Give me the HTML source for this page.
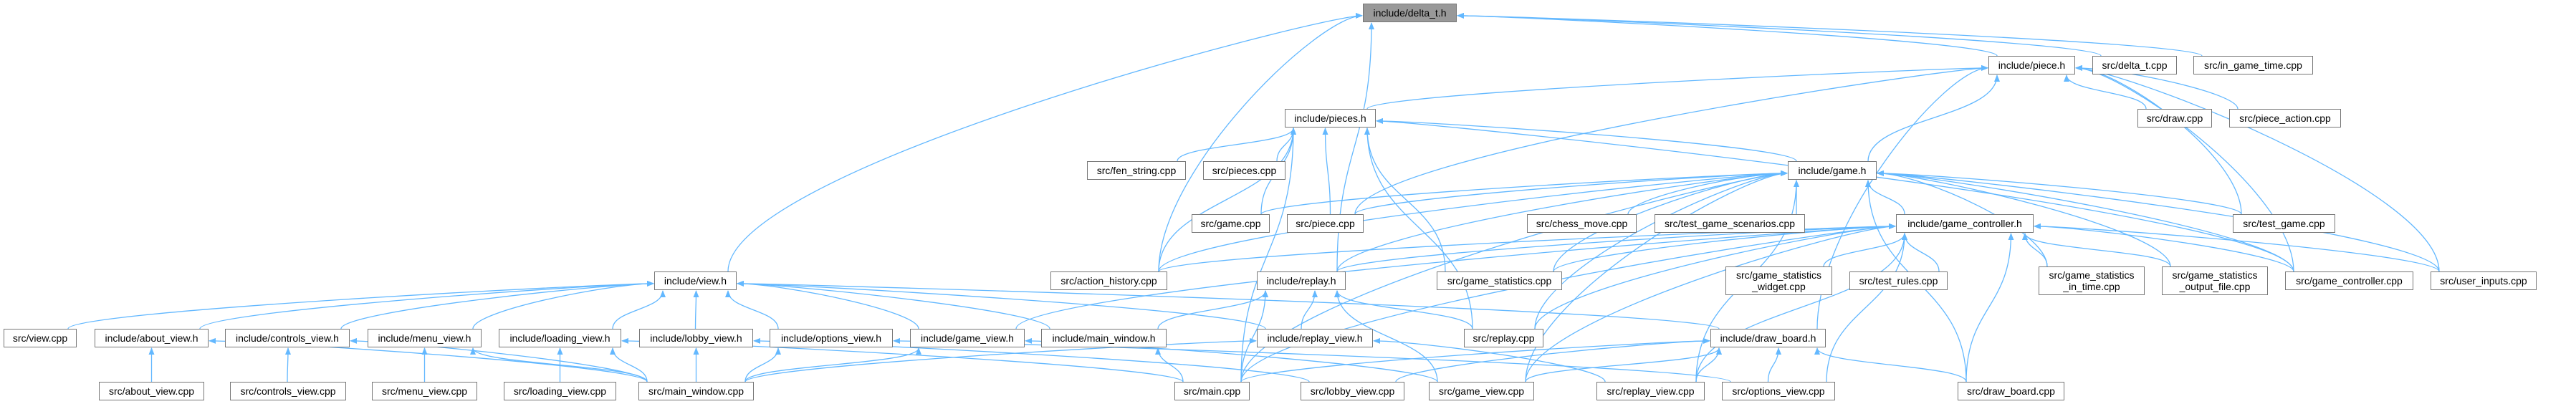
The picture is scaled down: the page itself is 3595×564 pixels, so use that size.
<!DOCTYPE html>
<html><head><meta charset="utf-8">
<style>
html,body{margin:0;padding:0;background:#fff;}
body{width:3595px;height:564px;position:relative;overflow:hidden;font-family:"Liberation Sans",Arial,sans-serif;}
.n{position:absolute;box-sizing:border-box;border:1px solid #777;background:#fff;font-size:14px;color:#000;display:flex;align-items:center;justify-content:center;text-align:center;line-height:16px;white-space:nowrap;}
.g{background:#999;}
svg{position:absolute;left:0;top:0;}
</style></head><body>
<svg id="s" width="3595" height="564">
<defs><marker id="a" markerWidth="10" markerHeight="8" refX="9" refY="4" orient="auto" markerUnits="userSpaceOnUse"><path d="M0,0 L10,4 L0,8 z" fill="#63b8ff"/></marker></defs>
<g id="e" fill="none" stroke="#63b8ff" stroke-width="1.3"></g>
</svg>
<div id="nodes">
<div class="n g" id="delta_t_h" style="left:1902px;top:5px;width:131px;height:26px">include/delta_t.h</div>
<div class="n" id="piece_h" style="left:2775px;top:78px;width:121px;height:26px">include/piece.h</div>
<div class="n" id="delta_t_cpp" style="left:2920px;top:78px;width:118px;height:26px">src/delta_t.cpp</div>
<div class="n" id="in_game_time" style="left:3061px;top:78px;width:167px;height:26px">src/in_game_time.cpp</div>
<div class="n" id="pieces_h" style="left:1793px;top:152px;width:127px;height:26px">include/pieces.h</div>
<div class="n" id="draw_cpp" style="left:2983px;top:152px;width:104px;height:26px">src/draw.cpp</div>
<div class="n" id="piece_action" style="left:3111px;top:152px;width:156px;height:26px">src/piece_action.cpp</div>
<div class="n" id="fen" style="left:1517px;top:225px;width:138px;height:26px">src/fen_string.cpp</div>
<div class="n" id="pieces_cpp" style="left:1679px;top:225px;width:115px;height:26px">src/pieces.cpp</div>
<div class="n" id="game_h" style="left:2495px;top:225px;width:124px;height:26px">include/game.h</div>
<div class="n" id="game_cpp" style="left:1663px;top:299px;width:109px;height:26px">src/game.cpp</div>
<div class="n" id="piece_cpp" style="left:1796px;top:299px;width:107px;height:26px">src/piece.cpp</div>
<div class="n" id="chess_move" style="left:2131px;top:299px;width:153px;height:26px">src/chess_move.cpp</div>
<div class="n" id="tgs" style="left:2309px;top:299px;width:210px;height:26px">src/test_game_scenarios.cpp</div>
<div class="n" id="gc_h" style="left:2646px;top:299px;width:192px;height:26px">include/game_controller.h</div>
<div class="n" id="test_game" style="left:3116px;top:299px;width:143px;height:26px">src/test_game.cpp</div>
<div class="n" id="view_h" style="left:913px;top:379px;width:115px;height:26px">include/view.h</div>
<div class="n" id="action_hist" style="left:1466px;top:379px;width:163px;height:26px">src/action_history.cpp</div>
<div class="n" id="replay_h" style="left:1754px;top:379px;width:124px;height:26px">include/replay.h</div>
<div class="n" id="gstat" style="left:2005px;top:379px;width:175px;height:26px">src/game_statistics.cpp</div>
<div class="n" id="gsw" style="left:2408px;top:372px;width:149px;height:40px">src/game_statistics<br>_widget.cpp</div>
<div class="n" id="test_rules" style="left:2581px;top:379px;width:137px;height:26px">src/test_rules.cpp</div>
<div class="n" id="gsit" style="left:2845px;top:372px;width:148px;height:40px">src/game_statistics<br>_in_time.cpp</div>
<div class="n" id="gsof" style="left:3017px;top:372px;width:148px;height:40px">src/game_statistics<br>_output_file.cpp</div>
<div class="n" id="gc_cpp" style="left:3189px;top:379px;width:179px;height:26px">src/game_controller.cpp</div>
<div class="n" id="user_in" style="left:3392px;top:379px;width:148px;height:26px">src/user_inputs.cpp</div>
<div class="n" id="view_cpp" style="left:5px;top:459px;width:102px;height:26px">src/view.cpp</div>
<div class="n" id="about_h" style="left:132px;top:459px;width:159px;height:26px">include/about_view.h</div>
<div class="n" id="controls_h" style="left:314px;top:459px;width:174px;height:26px">include/controls_view.h</div>
<div class="n" id="menu_h" style="left:513px;top:459px;width:159px;height:26px">include/menu_view.h</div>
<div class="n" id="loading_h" style="left:696px;top:459px;width:171px;height:26px">include/loading_view.h</div>
<div class="n" id="lobby_h" style="left:892px;top:459px;width:159px;height:26px">include/lobby_view.h</div>
<div class="n" id="options_h" style="left:1074px;top:459px;width:172px;height:26px">include/options_view.h</div>
<div class="n" id="gameview_h" style="left:1270px;top:459px;width:160px;height:26px">include/game_view.h</div>
<div class="n" id="mainwin_h" style="left:1453px;top:459px;width:175px;height:26px">include/main_window.h</div>
<div class="n" id="replayview_h" style="left:1754px;top:459px;width:162px;height:26px">include/replay_view.h</div>
<div class="n" id="replay_cpp" style="left:2043px;top:459px;width:111px;height:26px">src/replay.cpp</div>
<div class="n" id="drawboard_h" style="left:2387px;top:459px;width:161px;height:26px">include/draw_board.h</div>
<div class="n" id="about_cpp" style="left:138px;top:533px;width:147px;height:26px">src/about_view.cpp</div>
<div class="n" id="controls_cpp" style="left:321px;top:533px;width:162px;height:26px">src/controls_view.cpp</div>
<div class="n" id="menu_cpp" style="left:519px;top:533px;width:147px;height:26px">src/menu_view.cpp</div>
<div class="n" id="loading_cpp" style="left:703px;top:533px;width:157px;height:26px">src/loading_view.cpp</div>
<div class="n" id="mainwin_cpp" style="left:891px;top:533px;width:161px;height:26px">src/main_window.cpp</div>
<div class="n" id="main_cpp" style="left:1639px;top:533px;width:105px;height:26px">src/main.cpp</div>
<div class="n" id="lobby_cpp" style="left:1815px;top:533px;width:145px;height:26px">src/lobby_view.cpp</div>
<div class="n" id="gameview_cpp" style="left:1994px;top:533px;width:147px;height:26px">src/game_view.cpp</div>
<div class="n" id="replayview_cpp" style="left:2228px;top:533px;width:151px;height:26px">src/replay_view.cpp</div>
<div class="n" id="options_cpp" style="left:2403px;top:533px;width:158px;height:26px">src/options_view.cpp</div>
<div class="n" id="drawboard_cpp" style="left:2732px;top:533px;width:149px;height:26px">src/draw_board.cpp</div>
</div>
<script>
var E={
delta_t_h:["piece_h","delta_t_cpp","in_game_time","view_h","action_hist","replay_h"],
piece_h:["pieces_h","game_h","draw_cpp","piece_action","drawboard_h","gc_cpp","user_in","test_game","piece_cpp"],
pieces_h:["fen","pieces_cpp","game_cpp","piece_cpp","action_hist","main_cpp","replay_cpp","game_h","gc_cpp","gstat"],
game_h:["game_cpp","piece_cpp","chess_move","tgs","gc_h","test_game","gsit","gsof","gc_cpp","user_in","action_hist","gstat","replay_cpp","main_cpp","gameview_cpp","drawboard_cpp","replay_h","replayview_cpp"],
gc_h:["action_hist","replay_h","gsw","test_rules","gsit","gsof","gc_cpp","user_in","gstat","gameview_h","main_cpp","replay_cpp","replayview_cpp","gameview_cpp","options_cpp","drawboard_cpp"],
view_h:["view_cpp","about_h","controls_h","menu_h","loading_h","lobby_h","options_h","gameview_h","mainwin_h","replayview_h","drawboard_h"],
replay_h:["mainwin_h","replayview_h","replay_cpp","main_cpp","gameview_cpp"],
about_h:["about_cpp","mainwin_cpp"],controls_h:["controls_cpp","mainwin_cpp"],menu_h:["menu_cpp","mainwin_cpp"],
loading_h:["loading_cpp","mainwin_cpp","main_cpp"],lobby_h:["mainwin_cpp","lobby_cpp"],options_h:["mainwin_cpp","options_cpp"],
gameview_h:["mainwin_cpp","gameview_cpp"],mainwin_h:["main_cpp"],replayview_h:["mainwin_cpp","replayview_cpp"],
drawboard_h:["gameview_cpp","replayview_cpp","options_cpp","drawboard_cpp","lobby_cpp","main_cpp"]};
function b(id){var d=document.getElementById(id);return{x:d.offsetLeft,y:d.offsetTop,w:d.offsetWidth,h:d.offsetHeight};}
function cl(v,a,c){return Math.max(a,Math.min(c,v));}
var g=document.getElementById("e"),out="";
for(var p in E){var P=b(p);E[p].forEach(function(c){var C=b(c);
var pcx=P.x+P.w/2,ccx=C.x+C.w/2;
var x1=cl(pcx,C.x+12,C.x+C.w-12),y1=C.y;
var dx=ccx-pcx,x2,y2,d;
if(Math.abs(dx)>P.w*2.5){
 y2=P.y+P.h*0.65; x2=dx>0?P.x+P.w+1:P.x-1;
 var hl=Math.min(60,Math.abs(x1-x2)/3);
 var hx=x2+(dx>0?hl:-hl);
 d='M'+x1+' '+y1+' C'+x1+' '+(y1-(y1-y2)*0.4)+' '+hx+' '+y2+' '+x2+' '+y2;
}else{
 x2=cl(ccx,P.x+12,P.x+P.w-12); y2=P.y+P.h+1; var m=(y1+y2)/2;
 d='M'+x1+' '+y1+' C'+x1+' '+m+' '+x2+' '+m+' '+x2+' '+y2;
}
out+='<path marker-end="url(#a)" d="'+d+'"/>';});}
g.innerHTML=out;
</script>
</body></html>
